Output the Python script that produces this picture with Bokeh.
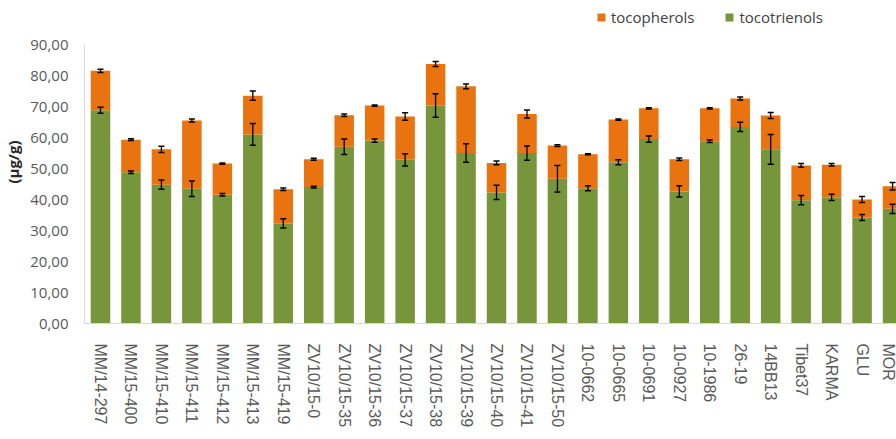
from bokeh.plotting import figure
from bokeh.models import (ColumnDataSource, Range1d, FixedTicker, Whisker, TeeHead,
                          Legend, LegendItem)
from bokeh.embed import file_html
from bokeh.resources import INLINE

# ---- data ----
genotypes = ["MM/14-297", "MM/15-400", "MM/15-410", "MM/15-411", "MM/15-412",
             "MM/15-413", "MM/15-419", "ZV10/15-0", "ZV10/15-35", "ZV10/15-36",
             "ZV10/15-37", "ZV10/15-38", "ZV10/15-39", "ZV10/15-40", "ZV10/15-41",
             "ZV10/15-50", "10-0662", "10-0665", "10-0691", "10-0927", "10-1986",
             "26-19", "14BB13", "Tibet37", "KARMA", "GLU", "MOR"]
tocotrienols = [68.8, 48.8, 44.8, 43.5, 41.5, 61.0, 32.3, 44.0, 57.0, 59.0,
                52.8, 70.3, 55.0, 42.3, 55.0, 46.7, 43.6, 52.0, 59.5, 42.6,
                58.8, 63.4, 56.2, 39.8, 40.7, 34.2, 37.0]
totals = [81.5, 59.3, 56.2, 65.5, 51.6, 73.5, 43.3, 53.0, 67.2, 70.3,
          66.8, 83.7, 76.5, 51.8, 67.6, 57.4, 54.6, 65.8, 69.4, 53.0,
          69.4, 72.6, 67.1, 51.0, 51.2, 40.0, 44.3]
err_tocotrienols = [1.0, 0.4, 1.5, 2.5, 0.4, 3.5, 1.5, 0.3, 2.5, 0.5,
                    2.0, 3.8, 3.0, 2.3, 2.3, 4.3, 0.8, 0.8, 1.0, 1.8,
                    0.4, 1.5, 4.8, 1.5, 1.0, 1.0, 1.5]
err_totals = [0.5, 0.3, 1.0, 0.5, 0.2, 1.5, 0.4, 0.3, 0.4, 0.2,
              1.2, 0.8, 0.8, 0.6, 1.3, 0.3, 0.2, 0.2, 0.2, 0.4,
              0.2, 0.5, 1.0, 0.6, 0.4, 1.0, 1.2]
y_ticks = [0, 10, 20, 30, 40, 50, 60, 70, 80, 90]
y_tick_labels = ["0,00", "10,00", "20,00", "30,00", "40,00", "50,00",
                 "60,00", "70,00", "80,00", "90,00"]

ORANGE = "#E8730F"
GREEN = "#77953A"
TXT = "#595959"

x = list(range(len(genotypes)))
src = ColumnDataSource(dict(
    x=x,
    t3=tocotrienols,
    tot=totals,
    t3_lo=[a - e for a, e in zip(tocotrienols, err_tocotrienols)],
    t3_hi=[a + e for a, e in zip(tocotrienols, err_tocotrienols)],
    tot_lo=[a - e for a, e in zip(totals, err_totals)],
    tot_hi=[a + e for a, e in zip(totals, err_totals)],
))

p = figure(width=896, height=439, output_backend="svg", toolbar_location=None,
           x_range=Range1d(-0.525, 26.13), y_range=Range1d(0, 104.2),
           min_border_left=83, min_border_right=0, min_border_top=0,
           min_border_bottom=116)
p.outline_line_color = None
p.xgrid.visible = False
p.ygrid.visible = False
p.background_fill_color = "white"

w = 0.64
r_t3 = p.vbar(x="x", bottom=0, top="t3", width=w, source=src,
              fill_color=GREEN, line_color=None)
r_tp = p.vbar(x="x", bottom="t3", top="tot", width=w, source=src,
              fill_color=ORANGE, line_color=None)

for lo, hi in (("t3_lo", "t3_hi"), ("tot_lo", "tot_hi")):
    wh = Whisker(base="x", lower=lo, upper=hi, source=src, level="overlay",
                 line_color="black", line_width=1.3,
                 upper_head=TeeHead(size=6, line_color="black", line_width=1.5),
                 lower_head=TeeHead(size=6, line_color="black", line_width=1.5))
    p.add_layout(wh)

# y axis
p.yaxis.ticker = FixedTicker(ticks=y_ticks)
p.yaxis.major_label_overrides = {t: l for t, l in zip(y_ticks, y_tick_labels)}
p.yaxis.bounds = (0, 90)
p.yaxis.axis_line_color = "#D9D9D9"
p.yaxis.major_tick_line_color = None
p.yaxis.minor_tick_line_color = None
p.yaxis.major_tick_out = 0
p.yaxis.major_label_standoff = 16
p.yaxis.major_label_text_font = "Open Sans"
p.yaxis.major_label_text_font_size = "15px"
p.yaxis.major_label_text_color = TXT
p.yaxis.axis_label = "(µg/g)"
p.yaxis.axis_label_text_font = "Open Sans"
p.yaxis.axis_label_text_font_style = "bold"
p.yaxis.axis_label_text_font_size = "15px"
p.yaxis.axis_label_text_color = "#262626"
p.yaxis.axis_label_standoff = 4

# x axis
p.xaxis.ticker = FixedTicker(ticks=x)
p.xaxis.major_label_overrides = {i: g for i, g in zip(x, genotypes)}
p.xaxis.major_label_orientation = "vertical"
p.xaxis.axis_line_color = "#D9D9D9"
p.xaxis.major_tick_line_color = None
p.xaxis.minor_tick_line_color = None
p.xaxis.major_tick_out = 0
p.xaxis.major_label_standoff = 20
p.xaxis.major_label_text_font = "Liberation Sans"
p.xaxis.major_label_text_font_size = "16px"
p.xaxis.major_label_text_color = TXT

legend = Legend(items=[LegendItem(label="tocopherols", renderers=[r_tp]),
                       LegendItem(label="tocotrienols", renderers=[r_t3])],
                orientation="horizontal", location=(512, 296),
                border_line_color=None, background_fill_alpha=0,
                padding=0, margin=0, spacing=30,
                glyph_width=10, glyph_height=10, label_standoff=5,
                label_text_font="Open Sans", label_text_font_size="15px",
                label_text_color="#404040", label_height=18)
p.add_layout(legend)

open("out.html", "w").write(file_html(p, INLINE))
